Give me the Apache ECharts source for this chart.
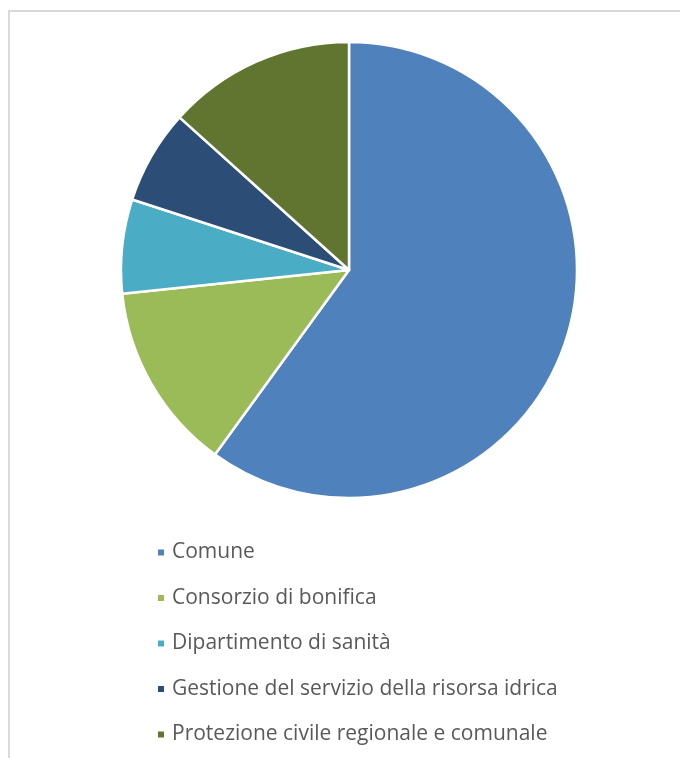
<!DOCTYPE html>
<html>
<head>
<meta charset="utf-8">
<script src="https://cdn.jsdelivr.net/npm/echarts@6/dist/echarts.min.js"></script>
<style>
  html, body { margin: 0; padding: 0; background: #ffffff; }
  #chart { width: 680px; height: 758px; }
</style>
</head>
<body>
<div id="chart"></div>
<script>
// Enti coinvolti (numero di risposte)
const categories = [
  'Comune',
  'Consorzio di bonifica',
  'Dipartimento di sanità',
  'Gestione del servizio della risorsa idrica',
  'Protezione civile regionale e comunale'
];
const counts = [9, 2, 1, 1, 2];
const colors = ['#4f81bd', '#9bbb59', '#4bacc6', '#2c4d75', '#5f7530'];

const chart = echarts.init(document.getElementById('chart'), null, { renderer: 'canvas' });

chart.setOption({
  backgroundColor: '#ffffff',
  animation: false,
  color: colors,
  graphic: [{
    type: 'polyline',
    shape: { points: [[9, 760], [9, 11], [690, 11]] },
    style: { stroke: '#d9d9d9', lineWidth: 2, fill: null }
  }],
  legend: {
    orient: 'vertical',
    left: 151,
    top: 537,
    icon: 'rect',
    itemWidth: 8,
    itemHeight: 8,
    itemGap: 24.5,
    textStyle: {
      color: '#595959',
      fontSize: 21,
      fontFamily: '"Open Sans", sans-serif',
      padding: [0, 0, 0, 2]
    },
    data: categories
  },
  series: [{
    type: 'pie',
    center: [349, 270],
    radius: 228,
    startAngle: 90,
    clockwise: true,
    label: { show: false },
    labelLine: { show: false },
    itemStyle: { borderColor: '#ffffff', borderWidth: 2.5 },
    emphasis: { disabled: true },
    data: categories.map((name, i) => ({ name: name, value: counts[i] }))
  }]
});
</script>
</body>
</html>
